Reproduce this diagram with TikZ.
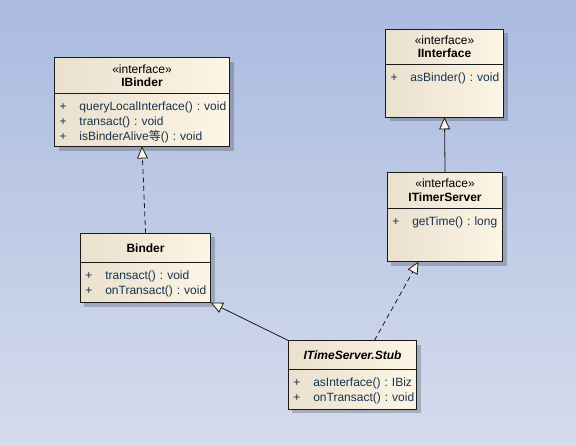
\documentclass[tikz,border=0pt]{standalone}
\usepackage{fontspec}
\setmainfont{Liberation Sans}
\newfontfamily\cjk{Noto Sans CJK SC}
\usepackage{tikz}
\usetikzlibrary{arrows.meta,positioning,shadows,calc}
\definecolor{umlInk}{HTML}{1A1A1A}
\definecolor{umlSkyTop}{HTML}{AABBE0}
\definecolor{umlSkyBottom}{HTML}{D4DBEC}
\definecolor{umlCreamLeft}{HTML}{E9E0CE}
\definecolor{umlCreamRight}{HTML}{FDF5E5}
\definecolor{umlMember}{HTML}{17344F}
\definecolor{umlTip}{HTML}{FDF6E8}
\frenchspacing
\newcommand{\op}[1]{\mbox{\makebox[20pt][l]{+}#1}}
\tikzset{
  classhead/.style={
    rectangle,
    draw=umlInk,
    line width=0.8pt,
    left color=umlCreamLeft,
    right color=umlCreamRight,
    general shadow={fill=black, opacity=0.2, shadow xshift=4pt, shadow yshift=-4pt},
    inner sep=0pt,
    outer sep=0pt,
    anchor=north west,
    align=center,
    font=\fontsize{12}{13.5}\selectfont
  },
  classbody/.style={
    rectangle,
    draw=umlInk,
    line width=0.8pt,
    left color=umlCreamLeft,
    right color=umlCreamRight,
    general shadow={fill=black, opacity=0.2, shadow xshift=4pt, shadow yshift=-4pt},
    inner xsep=5pt,
    inner ysep=5pt,
    outer sep=0pt,
    text height=12pt,
    align=left,
    text=umlMember,
    font=\fontsize{12}{15}\selectfont
  },
  inherit/.style={
    -{Triangle[length=12pt,width=11pt,fill=umlTip]},
    line width=0.8pt,
    draw=umlInk
  },
  realize/.style={
    inherit,
    dash pattern=on 5pt off 3.5pt
  }
}
\begin{document}
\begin{tikzpicture}[x=1pt,y=-1pt]
  \shade[top color=umlSkyTop,bottom color=umlSkyBottom] (0,0) rectangle (576,445);
  % interfaces
  \node[classhead,minimum width=175pt,minimum height=36pt] (ibinderHead) at (54.5,57.5) {«interface»\\\textbf{IBinder}};
  \node[classbody,below=0pt of ibinderHead,text width=165pt,text depth=31pt] (ibinderBody)
    {\op{queryLocalInterface() : void}\\\op{transact() : void}\\\op{isBinderAlive{\cjk 等}() : void}};
  \node[classhead,minimum width=118pt,minimum height=35pt] (iinterfaceHead) at (385.5,29.3) {«interface»\\\textbf{IInterface}};
  \node[classbody,below=0pt of iinterfaceHead,text width=108pt,text depth=31pt] (iinterfaceBody)
    {\op{asBinder() : void}};
  \node[classhead,minimum width=115.5pt,minimum height=36.3pt] (itimerHead) at (387.3,172.3) {«interface»\\\textbf{ITimerServer}};
  \node[classbody,below=0pt of itimerHead,text width=105.5pt,text depth=31pt] (itimerBody)
    {\op{getTime() : long}};
  % classes
  \node[classhead,minimum width=130.5pt,minimum height=29.2pt] (binderHead) at (80.3,233.3) {\textbf{Binder}};
  \node[classbody,below=0pt of binderHead,text width=120.5pt,text depth=18pt] (binderBody)
    {\op{transact() : void}\\\op{onTransact() : void}};
  \node[classhead,minimum width=128.5pt,minimum height=28.8pt] (stubHead) at (288.3,340.5) {\textbf{\textit{ITimeServer.Stub}}};
  \node[classbody,below=0pt of stubHead,text width=118.5pt,text depth=18pt] (stubBody)
    {\op{asInterface() : IBiz}\\\op{onTransact() : void}};
  % relations
  \draw[realize] (binderHead.north) -- (ibinderBody.south);
  \draw[inherit] (itimerHead.north) -- (iinterfaceBody.south);
  \draw[inherit] (stubHead.north west) -- (binderBody.south east);
  \draw[realize] ($(stubHead.north west)!0.67!(stubHead.north east)$) -- ($(itimerBody.south west)!0.27!(itimerBody.south east)$);
\end{tikzpicture}
\end{document}
